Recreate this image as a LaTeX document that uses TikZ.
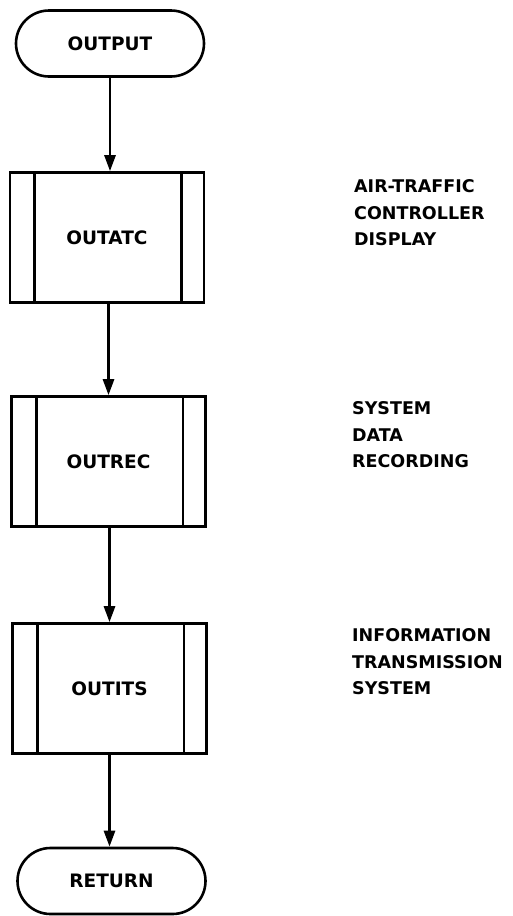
\documentclass[tikz,border=0pt]{standalone}
\usepackage{fontspec}
\setmainfont{DejaVu Sans}
\usetikzlibrary{arrows.meta}
\tikzset{
  ln/.style={line width=2.6pt},
  term/.style={ln, draw, rectangle, rounded corners=33pt, minimum width=188pt, minimum height=66pt, inner sep=0pt,
    font=\fontsize{18.5}{20}\selectfont\bfseries},
  proc/.style={ln, draw, rectangle, minimum width=194pt, minimum height=130pt, inner sep=0pt,
    font=\fontsize{18.5}{20}\selectfont\bfseries},
  note/.style={anchor=west, align=left, inner sep=0pt,
    font=\fontsize{17.5}{26.5}\selectfont\bfseries},
  flow/.style={ln, -{Triangle[length=16pt,width=11pt]}},
}
\begin{document}
\begin{tikzpicture}[x=1pt,y=-1pt]
\useasboundingbox (0,0) rectangle (513,916);
\fill[white] (0,0) rectangle (513,916);
\node[term] (out) at (110,43.5) {OUTPUT};
\node[proc] (atc) at (107,237.5) {OUTATC};
\node[proc] (rec) at (108.5,461.5) {OUTREC};
\node[proc] (its) at (109.5,688.5) {OUTITS};
\node[term] (ret) at (111.5,881) {RETURN};
\foreach \b in {atc,rec,its}{
  \draw[ln] ([xshift=26pt]\b.north west) -- ([xshift=26pt]\b.south west);
  \draw[ln] ([xshift=-24pt]\b.north east) -- ([xshift=-24pt]\b.south east);
}
\draw[flow] (out.south) -- (out.south |- atc.north);
\draw[flow] (atc.south -| rec.north) -- (rec.north);
\draw[flow] (rec.south -| its.north) -- (its.north);
\draw[flow] (its.south) -- (its.south |- ret.north);
\node[note] (n1) at (354,213) {AIR-TRAFFIC\\CONTROLLER\\DISPLAY};
\node[note] (n2) at (352,435) {SYSTEM\\DATA\\RECORDING};
\node[note] (n3) at (352,662) {INFORMATION\\TRANSMISSION\\SYSTEM};
\end{tikzpicture}
\end{document}
